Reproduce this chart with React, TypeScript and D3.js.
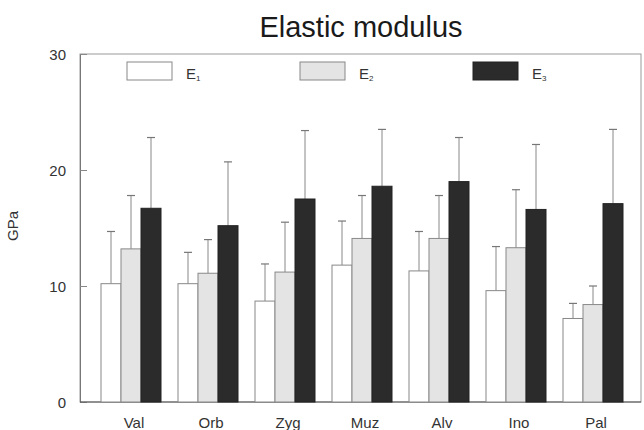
import { useEffect, useRef } from "react";
import * as d3 from "d3";

const sites = ["Val", "Orb", "Zyg", "Muz", "Alv", "Ino", "Pal"];
const seriesNames = ["E1", "E2", "E3"];
const e1Mean = [10.2, 10.2, 8.7, 11.8, 11.3, 9.6, 7.2];
const e1Sd = [4.5, 2.7, 3.2, 3.8, 3.4, 3.8, 1.3];
const e2Mean = [13.2, 11.1, 11.2, 14.1, 14.1, 13.3, 8.4];
const e2Sd = [4.6, 2.9, 4.3, 3.7, 3.7, 5.0, 1.6];
const e3Mean = [16.7, 15.2, 17.5, 18.6, 19.0, 16.6, 17.1];
const e3Sd = [6.1, 5.5, 5.9, 4.9, 3.8, 5.6, 6.4];
const yTicks = [0, 10, 20, 30];

const means = [e1Mean, e2Mean, e3Mean];
const sds = [e1Sd, e2Sd, e3Sd];
const fills = ["#ffffff", "#e4e4e4", "#2b2b2b"];

function App() {
  const ref = useRef<SVGSVGElement>(null);

  useEffect(() => {
    if (!ref.current) return;
    const svg = d3.select(ref.current);
    svg.selectAll("*").remove();

    const left = 80;
    const right = 641;
    const top = 54;
    const bottom = 402;

    const y = d3.scaleLinear().domain([0, 30]).range([bottom, top]);
    const x = d3
      .scaleBand<string>()
      .domain(sites)
      .range([92.5, 631.5])
      .paddingInner(17 / 77)
      .paddingOuter(8.5 / 77);
    const xs = d3
      .scaleBand<string>()
      .domain(seriesNames)
      .range([0, x.bandwidth()]);

    svg
      .append("text")
      .attr("x", 361)
      .attr("y", 37)
      .attr("text-anchor", "middle")
      .attr("font-family", "Liberation Sans, Arial, sans-serif")
      .attr("font-size", 29)
      .attr("fill", "#1a1a1a")
      .text("Elastic modulus");

    // frame
    svg
      .append("rect")
      .attr("x", left)
      .attr("y", top)
      .attr("width", right - left)
      .attr("height", bottom - top)
      .attr("fill", "none")
      .attr("stroke", "#999")
      .attr("stroke-width", 1);

    const yAxis = svg
      .append("g")
      .attr("transform", `translate(${left},0)`)
      .call(
        d3
          .axisRight(y)
          .tickValues(yTicks)
          .tickSize(7)
          .tickFormat(() => "")
      );
    yAxis.select(".domain").attr("stroke", "#777");
    yAxis.selectAll(".tick line").attr("stroke", "#888");

    yAxis
      .selectAll(".tick")
      .append("text")
      .attr("x", -14)
      .attr("dy", "0.35em")
      .attr("text-anchor", "end")
      .attr("font-family", "Liberation Sans, Arial, sans-serif")
      .attr("font-size", 15)
      .attr("fill", "#333")
      .text((d: any) => String(d));

    svg
      .append("line")
      .attr("x1", left)
      .attr("x2", right)
      .attr("y1", bottom)
      .attr("y2", bottom)
      .attr("stroke", "#555");

    svg
      .append("text")
      .attr("transform", `translate(18,226) rotate(-90)`)
      .attr("text-anchor", "middle")
      .attr("font-family", "Liberation Sans, Arial, sans-serif")
      .attr("font-size", 15)
      .attr("fill", "#333")
      .text("GPa");

    const groups = svg
      .append("g")
      .selectAll("g")
      .data(sites)
      .join("g")
      .attr("transform", (d) => `translate(${x(d)},0)`);

    seriesNames.forEach((s, si) => {
      const cx = (xs(s) as number) + xs.bandwidth() / 2;
      // error bars (upper only)
      groups
        .append("line")
        .attr("x1", cx)
        .attr("x2", cx)
        .attr("y1", (_, i) => y(means[si][i]))
        .attr("y2", (_, i) => y(means[si][i] + sds[si][i]))
        .attr("stroke", "#888")
        .attr("stroke-width", 1);
      groups
        .append("line")
        .attr("x1", cx - 4)
        .attr("x2", cx + 4)
        .attr("y1", (_, i) => y(means[si][i] + sds[si][i]))
        .attr("y2", (_, i) => y(means[si][i] + sds[si][i]))
        .attr("stroke", "#777")
        .attr("stroke-width", 1.2);
      groups
        .append("rect")
        .attr("x", xs(s) as number)
        .attr("width", xs.bandwidth())
        .attr("y", (_, i) => y(means[si][i]))
        .attr("height", (_, i) => bottom - y(means[si][i]))
        .attr("fill", fills[si])
        .attr("stroke", si === 2 ? "#222" : "#888")
        .attr("stroke-width", 1);
    });

    groups
      .append("text")
      .attr("x", x.bandwidth() / 2 + 3)
      .attr("y", 428)
      .attr("text-anchor", "middle")
      .attr("font-family", "Liberation Sans, Arial, sans-serif")
      .attr("font-size", 15)
      .attr("fill", "#333")
      .text((d) => d);

    // legend
    const legendX = [127, 300, 473];
    seriesNames.forEach((s, si) => {
      const g = svg.append("g").attr("transform", `translate(${legendX[si]},62)`);
      g.append("rect")
        .attr("width", 45)
        .attr("height", 18)
        .attr("fill", fills[si])
        .attr("stroke", si === 2 ? "#222" : "#888");
      const t = g
        .append("text")
        .attr("x", 59)
        .attr("y", 17)
        .attr("font-family", "Liberation Sans, Arial, sans-serif")
        .attr("font-size", 15)
        .attr("fill", "#333");
      t.append("tspan").text("E");
      t.append("tspan")
        .attr("font-size", 8)
        .attr("dy", 2)
        .text(String(si + 1));
    });
  }, []);

  return (
    <svg
      ref={ref}
      width={644}
      height={430}
      style={{ position: "absolute", left: 0, top: 0 }}
    ></svg>
  );
}

export default App;
